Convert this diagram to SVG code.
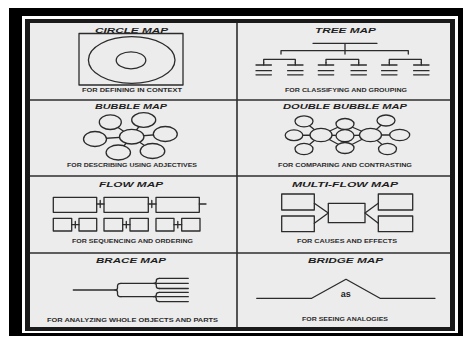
<svg xmlns="http://www.w3.org/2000/svg" width="466" height="337" viewBox="0 0 466 337">
<defs>
<style>
.ln{stroke:#2b2b2b;stroke-width:1.3;fill:none;stroke-linecap:round;stroke-linejoin:round}
.sh{stroke:#2b2b2b;stroke-width:1.3;fill:#ececec}
.grid{stroke:#2e2e2e;stroke-width:1.6}
.ttl{font-family:"Liberation Sans",Arial,sans-serif;font-weight:bold;font-style:italic;font-size:8px;fill:#1e1e1e;text-anchor:middle}
.cap{font-family:"Liberation Sans",Arial,sans-serif;font-weight:bold;font-size:5.5px;fill:#2a2a2a;text-anchor:middle}
</style>
</defs>
<rect x="0" y="0" width="466" height="337" fill="#ffffff"/>
<rect x="9" y="8" width="454" height="328" fill="#000000"/>
<rect x="22" y="16" width="436" height="317" fill="#ffffff"/>
<rect x="25" y="19" width="430" height="312" fill="#1a1a1a"/>
<rect x="30" y="23" width="420" height="304" fill="#ececec"/>
<g id="grid">
<line class="grid" x1="237" y1="23" x2="237" y2="327"/>
<line class="grid" x1="30" y1="100" x2="450" y2="100"/>
<line class="grid" x1="30" y1="176" x2="450" y2="176"/>
<line class="grid" x1="30" y1="253" x2="450" y2="253"/>
</g>
<g id="circle-map">
<text class="ttl" x="131.5" y="32.5" textLength="73" lengthAdjust="spacingAndGlyphs">CIRCLE MAP</text>
<rect class="ln" x="79" y="33.5" width="104" height="51.5"/>
<ellipse class="ln" cx="131.7" cy="60" rx="43.3" ry="23.3"/>
<ellipse class="ln" cx="131" cy="60.3" rx="14.8" ry="8.5"/>
<text class="cap" x="132" y="91.5" textLength="100" lengthAdjust="spacingAndGlyphs">FOR DEFINING IN CONTEXT</text>
</g>
<g id="tree-map">
<text class="ttl" x="345.5" y="32.5" textLength="61" lengthAdjust="spacingAndGlyphs">TREE MAP</text>
<path class="ln" d="M313 43.3H377M345 43.3V54M281 54V50.7H408.3V54"/>
<path class="ln" d="M263.7 62.7V59.3H295.3V62.7M326 62.7V59.3H358.7V62.7M389.3 62.7V59.3H421.3V62.7"/>
<path class="ln" d="M256 65H271.4M287.6 65H303M318.3 65H333.7M351 65H366.4M381.6 65H397M413.6 65H429"/>
<path class="ln" d="M263.7 62.7V65M295.3 62.7V65M326 62.7V65M358.7 62.7V65M389.3 62.7V65M421.3 62.7V65"/>
<path class="ln" d="M256 70.7H271.4M287.6 70.7H303M318.3 70.7H333.7M351 70.7H366.4M381.6 70.7H397M413.6 70.7H429"/>
<path class="ln" d="M256 74.8H271.4M287.6 74.8H303M318.3 74.8H333.7M351 74.8H366.4M381.6 74.8H397M413.6 74.8H429"/>
<text class="cap" x="346" y="91.5" textLength="122" lengthAdjust="spacingAndGlyphs">FOR CLASSIFYING AND GROUPING</text>
</g>
<g id="bubble-map">
<text class="ttl" x="131" y="108.5" textLength="72" lengthAdjust="spacingAndGlyphs">BUBBLE MAP</text>
<path class="ln" d="M131.7 136.7L110.3 122.2M131.7 136.7L143.7 120M131.7 136.7L95 139M131.7 136.7L165.3 134M131.7 136.7L118.3 152.5M131.7 136.7L152.5 151"/>
<ellipse class="sh" cx="110.3" cy="122.2" rx="11" ry="7.3"/>
<ellipse class="sh" cx="143.7" cy="120" rx="12" ry="7.3"/>
<ellipse class="sh" cx="95" cy="139" rx="11.5" ry="7.5"/>
<ellipse class="sh" cx="131.7" cy="136.7" rx="12.2" ry="7.3"/>
<ellipse class="sh" cx="165.3" cy="134" rx="12" ry="7.5"/>
<ellipse class="sh" cx="118.3" cy="152.5" rx="12.2" ry="7.5"/>
<ellipse class="sh" cx="152.5" cy="151" rx="12.3" ry="7.5"/>
<text class="cap" x="132" y="167.3" textLength="130" lengthAdjust="spacingAndGlyphs">FOR DESCRIBING USING ADJECTIVES</text>
</g>
<g id="double-bubble-map">
<text class="ttl" x="345" y="108.5" textLength="124" lengthAdjust="spacingAndGlyphs">DOUBLE BUBBLE MAP</text>
<path class="ln" d="M321 135L304 121.3M321 135L294 135.3M321 135L304 149M321 135L345 124M321 135L345 135.7M321 135L345 148"/>
<path class="ln" d="M370.5 135L386 120.5M370.5 135L399.7 135M370.5 135L387.5 149M370.5 135L345 124M370.5 135L345 135.7M370.5 135L345 148"/>
<ellipse class="sh" cx="304" cy="121.3" rx="9" ry="5.5"/>
<ellipse class="sh" cx="345" cy="124" rx="9" ry="5.5"/>
<ellipse class="sh" cx="386" cy="120.5" rx="9" ry="5.5"/>
<ellipse class="sh" cx="294" cy="135.3" rx="8.8" ry="5.4"/>
<ellipse class="sh" cx="321" cy="135" rx="11" ry="6.7"/>
<ellipse class="sh" cx="345" cy="135.7" rx="9" ry="6"/>
<ellipse class="sh" cx="370.5" cy="135" rx="11" ry="6.7"/>
<ellipse class="sh" cx="399.7" cy="135" rx="10" ry="5.6"/>
<ellipse class="sh" cx="304" cy="149" rx="9" ry="5.7"/>
<ellipse class="sh" cx="345" cy="148" rx="9" ry="5.5"/>
<ellipse class="sh" cx="387.5" cy="149" rx="9" ry="5.7"/>
<text class="cap" x="345" y="167" textLength="134" lengthAdjust="spacingAndGlyphs">FOR COMPARING AND CONTRASTING</text>
</g>
<g id="flow-map">
<text class="ttl" x="131" y="186.7" textLength="64" lengthAdjust="spacingAndGlyphs">FLOW MAP</text>
<rect class="ln" x="53.3" y="197.3" width="43.4" height="15"/>
<rect class="ln" x="104" y="197.3" width="44.3" height="15"/>
<rect class="ln" x="156" y="197.3" width="43.3" height="15"/>
<path class="ln" d="M96.7 204H104M100.2 200.5V207.5M148.3 204H156M151.8 200.5V207.5M199.3 204H206"/>
<rect class="ln" x="53.3" y="218.3" width="18.4" height="12.7"/>
<rect class="ln" x="79" y="218.3" width="17.7" height="12.7"/>
<rect class="ln" x="104" y="218.3" width="18.7" height="12.7"/>
<rect class="ln" x="130" y="218.3" width="18.3" height="12.7"/>
<rect class="ln" x="156" y="218.3" width="18" height="12.7"/>
<rect class="ln" x="181.7" y="218.3" width="18.3" height="12.7"/>
<path class="ln" d="M71.7 224.7H79M75.3 221.5V227.9M122.7 224.7H130M126.3 221.5V227.9M174 224.7H181.7M177.8 221.5V227.9"/>
<text class="cap" x="132.5" y="242.7" textLength="121" lengthAdjust="spacingAndGlyphs">FOR SEQUENCING AND ORDERING</text>
</g>
<g id="multi-flow-map">
<text class="ttl" x="345" y="186.7" textLength="106" lengthAdjust="spacingAndGlyphs">MULTI-FLOW MAP</text>
<rect class="ln" x="281.7" y="194" width="32.6" height="16"/>
<rect class="ln" x="281.7" y="216" width="32.6" height="15.7"/>
<rect class="ln" x="328.3" y="203.3" width="36.7" height="19.4"/>
<rect class="ln" x="378.3" y="194" width="34.4" height="16"/>
<rect class="ln" x="378.3" y="216" width="34.4" height="15.7"/>
<path class="ln" d="M314.3 203.3L328.3 213M314.3 223.3L328.3 213M365 213L378.3 203.3M365 213L378.3 223.3"/>
<text class="cap" x="347" y="242.7" textLength="100" lengthAdjust="spacingAndGlyphs">FOR CAUSES AND EFFECTS</text>
</g>
<g id="brace-map">
<text class="ttl" x="131" y="263.3" textLength="70" lengthAdjust="spacingAndGlyphs">BRACE MAP</text>
<path class="ln" d="M73.3 290H115"/>
<path class="ln" d="M121 283.3Q117.5 283.3 117.5 286V288Q117.5 290 115 290Q117.5 290 117.5 292V294Q117.5 296.7 121 296.7"/>
<path class="ln" d="M121 283.3H153.5M121 296.7H153.5"/>
<path class="ln" d="M159.3 278.3Q156.3 278.3 156.3 280.5V281.5Q156.3 283.3 153.5 283.3Q156.3 283.3 156.3 285V286.3Q156.3 288.5 159.3 288.5"/>
<path class="ln" d="M159.3 292.3Q156.3 292.3 156.3 294.5V295Q156.3 296.7 153.5 296.7Q156.3 296.7 156.3 298.5V299.5Q156.3 301.6 159.3 301.6"/>
<path class="ln" d="M159.3 278.3H188.3M156.5 283.3H188.3M159.3 288.5H188.3M159.3 292.3H188.3M156.5 296.7H188.3M159.3 301.6H188.3"/>
<text class="cap" x="132.5" y="321.7" textLength="171" lengthAdjust="spacingAndGlyphs">FOR ANALYZING WHOLE OBJECTS AND PARTS</text>
</g>
<g id="bridge-map">
<text class="ttl" x="345.5" y="263.3" textLength="75" lengthAdjust="spacingAndGlyphs">BRIDGE MAP</text>
<path class="ln" d="M256.7 298.3H311.7L346 279.3L380 298.3H435"/>
<text x="345.8" y="297" font-family="Liberation Sans, Arial, sans-serif" font-weight="bold" font-size="9" fill="#222" text-anchor="middle">as</text>
<text class="cap" x="345" y="320.7" textLength="86" lengthAdjust="spacingAndGlyphs">FOR SEEING ANALOGIES</text>
</g>
</svg>
